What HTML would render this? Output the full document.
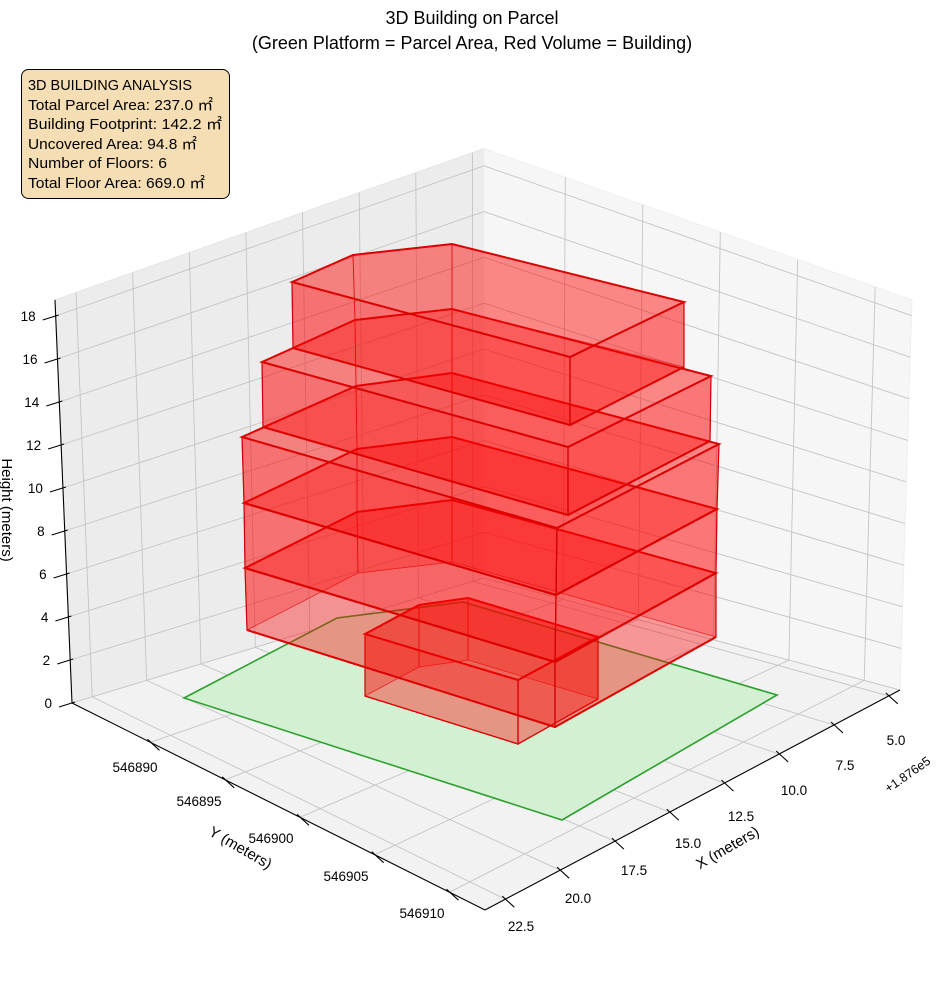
<!DOCTYPE html>
<html><head><meta charset="utf-8">
<style>
html,body{margin:0;padding:0;background:#fff;}
svg{display:block;font-family:"Liberation Sans","Noto Sans CJK SC",sans-serif;}
</style></head>
<body>
<svg id="s" width="944" height="992" viewBox="0 0 944 992" xmlns="http://www.w3.org/2000/svg">
<g id="panes"></g>
<g id="grid" stroke="#c4c4c4" stroke-width="0.9" fill="none"></g>
<polygon points="184,698 337,618 463,602 777,695 562,820" fill="#d3f0d3" stroke="#2ca02c" stroke-width="1.6"/>
<g id="bld"></g>
<g id="axes" stroke="#000" stroke-width="1.1" fill="none"></g>
<g id="labels" font-size="13.5" fill="#000"></g>
<text x="472" y="24" font-size="18" text-anchor="middle">3D Building on Parcel</text>
<text x="472" y="49" font-size="18" text-anchor="middle">(Green Platform = Parcel Area, Red Volume = Building)</text>
<rect x="21.5" y="69.5" width="208" height="129" rx="7" fill="#f5deb3" stroke="#000" stroke-width="1"/>
<g font-size="15" fill="#000">
<text x="28" y="90" textLength="164" lengthAdjust="spacingAndGlyphs">3D BUILDING ANALYSIS</text>
<text x="28" y="110" textLength="185" lengthAdjust="spacingAndGlyphs">Total Parcel Area: 237.0 ㎡</text>
<text x="28" y="129" textLength="194" lengthAdjust="spacingAndGlyphs">Building Footprint: 142.2 ㎡</text>
<text x="28" y="149" textLength="169" lengthAdjust="spacingAndGlyphs">Uncovered Area: 94.8 ㎡</text>
<text x="28" y="168" textLength="139" lengthAdjust="spacingAndGlyphs">Number of Floors: 6</text>
<text x="28" y="188" textLength="177" lengthAdjust="spacingAndGlyphs">Total Floor Area: 669.0 ㎡</text>
</g>
<text transform="translate(2,510) rotate(90)" font-size="15" text-anchor="middle">Height (meters)</text>
<text transform="translate(238,852) rotate(30)" font-size="15" text-anchor="middle">Y (meters)</text>
<text transform="translate(730,852) rotate(-30)" font-size="15" text-anchor="middle">X (meters)</text>
<text transform="translate(910,778) rotate(-35)" font-size="12.5" text-anchor="middle">+1.876e5</text>
</svg>
<script>
const NS="http://www.w3.org/2000/svg";
function el(parent,tag,attrs,txt){const e=document.createElementNS(NS,tag);for(const k in attrs)e.setAttribute(k,attrs[k]);if(txt!==undefined)e.textContent=txt;document.getElementById(parent).appendChild(e);return e;}
const B=[484,578],L=[72,703],F=[485,910],R=[900,690];
const ZM=18.75;
const k={B:22.9,L:21.5,F:24,R:20.8};
const dx={B:0,L:-17/ZM,F:0,R:12/ZM};
function P(p,q,z){
 const wB=(1-p)*(1-q),wL=p*(1-q),wF=p*q,wR=(1-p)*q;
 const x=B[0]*wB+L[0]*wL+F[0]*wF+R[0]*wR;
 const y=B[1]*wB+L[1]*wL+F[1]*wF+R[1]*wR;
 const kk=k.B*wB+k.L*wL+k.F*wF+k.R*wR;
 const d=dx.B*wB+dx.L*wL+dx.F*wF+dx.R*wR;
 return [x+d*z,y-kk*z];
}
function pts(a){return a.map(v=>v[0].toFixed(1)+","+v[1].toFixed(1)).join(" ");}
el("panes","polygon",{points:pts([P(0,0,0),P(1,0,0),P(1,0,ZM),P(0,0,ZM)]),fill:"#ececec",stroke:"#e6e6e6"});
el("panes","polygon",{points:pts([P(0,0,0),P(0,1,0),P(0,1,ZM),P(0,0,ZM)]),fill:"#f6f6f6",stroke:"#efefef"});
el("panes","polygon",{points:pts([P(0,0,0),P(1,0,0),P(1,1,0),P(0,1,0)]),fill:"#f2f2f2",stroke:"#ececec"});
function line(g,a,b,extra){const o={x1:a[0].toFixed(1),y1:a[1].toFixed(1),x2:b[0].toFixed(1),y2:b[1].toFixed(1)};if(extra)Object.assign(o,extra);el(g,"line",o);}
const xs=["5.0","7.5","10.0","12.5","15.0","17.5","20.0","22.5"];
const xpos=[[896,745],[845,770],[794,795],[741,821],[688,848],[634,875],[578,903],[521,931]];
const ys=["546890","546895","546900","546905","546910"];
const ypos=[[135,772],[199,806],[271,843],[346,881],[422,918]];
for(let i=0;i<8;i++){const p=0.027+0.132*i;line("grid",P(p,0,0),P(p,1,0));line("grid",P(p,0,0),P(p,0,ZM));}
for(let j=0;j<5;j++){const q=0.19+0.181*j;line("grid",P(0,q,0),P(1,q,0));line("grid",P(0,q,0),P(0,q,ZM));}
for(let z=0;z<=18;z+=2){line("grid",P(0,0,z),P(1,0,z));line("grid",P(0,0,z),P(0,1,z));}
line("axes",P(1,0,0),P(1,0,ZM));
line("axes",P(1,0,0),P(1,1,0));
line("axes",P(1,1,0),P(0,1,0));
for(let z=0;z<=18;z+=2){const a=P(1,0,z);line("axes",[a[0]-13,a[1]+4],[a[0]+3,a[1]-1]);
 el("labels","text",{x:(a[0]-20).toFixed(1),y:(a[1]+5).toFixed(1),"text-anchor":"end"},String(z));}
for(let j=0;j<5;j++){const q=0.19+0.181*j;const a=P(1,q,0);line("axes",[a[0]-3,a[1]-3],[a[0]+9,a[1]+8]);
 el("labels","text",{x:ypos[j][0],y:ypos[j][1],"text-anchor":"middle"},ys[j]);}
for(let i=0;i<8;i++){const p=0.027+0.132*i;const a=P(p,1,0);line("axes",[a[0]-3,a[1]-3],[a[0]+9,a[1]+8]);
 el("labels","text",{x:xpos[i][0],y:xpos[i][1],"text-anchor":"middle"},xs[i]);}
const blocks=[
 {t:[[365,634],[419,605],[468,598],[598,637],[518,680]],b:[[365,696],[419,667],[468,660],[598,699],[518,744]]},
 {t:[[245,568],[357,512],[452,500],[716,573],[555,662]],b:[[247,630],[358,573],[452,562],[716,637],[555,727]]},
 {t:[[244,503],[357,449],[452,437],[717,509],[556,595]],b:[[245,568],[357,512],[452,500],[716,573],[555,662]]},
 {t:[[242,437],[356,386],[452,373],[719,444],[557,528]],b:[[244,503],[357,449],[452,437],[717,509],[556,595]]},
 {t:[[262,362],[355,320],[452,309],[711,376],[568,447]],b:[[263,427],[356,386],[452,373],[710,441],[568,515]]},
 {t:[[292,282],[353,255],[452,244],[684,302],[570,357]],b:[[293,348],[355,320],[452,309],[684,367],[570,425]]}
];
blocks.forEach((bk,idx)=>{
 const t=bk.t,b=bk.b;
 [[0,1],[1,2],[2,3]].forEach(([i,j])=>{
  el("bld","polygon",{points:pts([t[i],t[j],b[j],b[i]]),fill:"#ff0000","fill-opacity":0.22,stroke:"#cc0000","stroke-width":0.8,"stroke-opacity":0.7});
 });
 el("bld","polygon",{points:pts(t),fill:"#ff0000","fill-opacity":0.3,stroke:"none"});
 [[0,4],[4,3]].forEach(([i,j])=>{
  el("bld","polygon",{points:pts([t[i],t[j],b[j],b[i]]),fill:"#ff0000","fill-opacity":0.38,stroke:"#d00000","stroke-width":1.2});
 });
 el("bld","polygon",{points:pts(t),fill:"none",stroke:"#dd0000","stroke-width":2});
 el("bld","polyline",{points:pts([b[0],b[4],b[3]]),fill:"none",stroke:"#dd0000","stroke-width":idx==0?1.2:2});
});
</script>
</body></html>
